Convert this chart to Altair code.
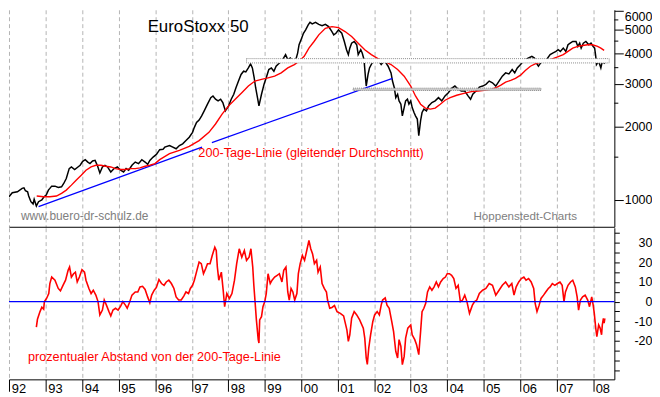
import altair as alt
import pandas as pd

# ---- EuroStoxx 50 (black) ----
price_year = [1991.99, 1992.08, 1992.22, 1992.35, 1992.40, 1992.44, 1992.50, 1992.53, 1992.59, 1992.65,
              1992.68, 1992.74, 1992.80, 1992.89, 1992.95, 1993.01, 1993.07, 1993.11, 1993.16, 1993.25,
              1993.34, 1993.43, 1993.49, 1993.56, 1993.64, 1993.70, 1993.79, 1993.88, 1993.94, 1994.01,
              1994.08, 1994.15, 1994.21, 1994.28, 1994.35, 1994.42, 1994.48, 1994.55, 1994.62, 1994.69,
              1994.78, 1994.87, 1994.96, 1995.05, 1995.13, 1995.20, 1995.27, 1995.36, 1995.45, 1995.54,
              1995.63, 1995.72, 1995.79, 1995.85, 1995.94, 1996.03, 1996.12, 1996.21, 1996.26, 1996.39,
              1996.48, 1996.57, 1996.66, 1996.75, 1996.84, 1996.93, 1997.02, 1997.07, 1997.13, 1997.20,
              1997.27, 1997.34, 1997.43, 1997.52, 1997.58, 1997.65, 1997.72, 1997.79, 1997.85, 1997.92,
              1998.01, 1998.08, 1998.15, 1998.21, 1998.28, 1998.35, 1998.42, 1998.48, 1998.55, 1998.61,
              1998.66, 1998.71, 1998.75, 1998.80, 1998.84, 1998.91, 1998.98, 1999.04, 1999.11, 1999.18,
              1999.25, 1999.31, 1999.40, 1999.49, 1999.57, 1999.63, 1999.70, 1999.76, 1999.85, 1999.90,
              1999.94, 2000.01, 2000.06, 2000.12, 2000.19, 2000.24, 2000.30, 2000.39, 2000.48, 2000.57,
              2000.66, 2000.75, 2000.84, 2000.89, 2000.95, 2001.02, 2001.11, 2001.18, 2001.24, 2001.29,
              2001.33, 2001.38, 2001.45, 2001.52, 2001.56, 2001.63, 2001.67, 2001.72, 2001.76, 2001.78,
              2001.83, 2001.87, 2001.94, 2002.01, 2002.10, 2002.19, 2002.26, 2002.32, 2002.38, 2002.46,
              2002.50, 2002.55, 2002.59, 2002.64, 2002.68, 2002.73, 2002.77, 2002.82, 2002.86, 2002.91,
              2002.95, 2003.00, 2003.04, 2003.09, 2003.13, 2003.18, 2003.22, 2003.27, 2003.31, 2003.36,
              2003.43, 2003.49, 2003.58, 2003.67, 2003.76, 2003.85, 2003.94, 2004.03, 2004.12, 2004.21,
              2004.30, 2004.39, 2004.48, 2004.57, 2004.64, 2004.70, 2004.79, 2004.88, 2004.97, 2005.06,
              2005.15, 2005.24, 2005.33, 2005.42, 2005.51, 2005.60, 2005.69, 2005.78, 2005.85, 2005.92,
              2006.01, 2006.08, 2006.14, 2006.23, 2006.32, 2006.39, 2006.44, 2006.50, 2006.56, 2006.64,
              2006.72, 2006.82, 2006.89, 2006.98, 2007.04, 2007.10, 2007.18, 2007.25, 2007.31, 2007.37,
              2007.44, 2007.53, 2007.58, 2007.63, 2007.67, 2007.73, 2007.80, 2007.88, 2007.94, 2008.00,
              2008.04, 2008.07, 2008.09, 2008.15, 2008.21, 2008.25, 2008.30, 2008.34, 2008.39]
price_value = [1031, 1071, 1081, 1116, 1122, 1091, 1081, 1038, 984, 963,
               1007, 945, 984, 1000, 1031, 1048, 1098, 1116, 1140, 1140,
               1126, 1133, 1169, 1226, 1346, 1367, 1334, 1367, 1389, 1442,
               1465, 1432, 1411, 1446, 1455, 1376, 1292, 1367, 1389, 1367,
               1304, 1346, 1367, 1325, 1304, 1346, 1325, 1389, 1432, 1411,
               1465, 1432, 1402, 1455, 1501, 1540, 1610, 1615, 1649, 1675,
               1649, 1624, 1675, 1702, 1755, 1811, 1897, 1989, 2084, 2131,
               2219, 2326, 2477, 2635, 2678, 2596, 2555, 2596, 2515, 2326,
               2438, 2596, 2721, 2894, 3083, 3282, 3384, 3363, 3491, 3626,
               3491, 3179, 2894, 2635, 2438, 2721, 2989, 3179, 3439, 3491,
               3384, 3548, 3660, 3777, 3958, 3777, 3834, 3718, 3777, 4018,
               4348, 4626, 4849, 5006, 5246, 5373, 5300, 5373, 5275, 5211,
               5275, 5163, 4927, 4775, 4849, 5006, 4849, 4485, 4148, 3958,
               4211, 4414, 4485, 4348, 3958, 4148, 4018, 3777, 3179, 2941,
               3282, 3491, 3660, 3718, 3777, 3605, 3718, 3660, 3548, 3331,
               3083, 2894, 2635, 2721, 2555, 2477, 2219, 2399, 2555, 2596,
               2477, 2555, 2399, 2289, 2219, 2151, 1840, 2118, 2289, 2363,
               2326, 2438, 2515, 2555, 2635, 2555, 2678, 2762, 2878, 2941,
               2851, 2806, 2806, 2678, 2596, 2721, 2806, 2913, 2941, 2989,
               3083, 3034, 2941, 3083, 3230, 3331, 3300, 3439, 3331, 3491,
               3605, 3718, 3777, 3834, 3895, 3834, 3660, 3548, 3660, 3742,
               3777, 3958, 4018, 4083, 4148, 4083, 4211, 4083, 4348, 4414,
               4485, 4485, 4279, 4414, 4211, 4414, 4485, 4348, 4414, 4279,
               4211, 3895, 3605, 3718, 3491, 3718, 3660, 3777, 3660]

# ---- 200-day moving average (red) ----
ma_year = [1992.75, 1992.94, 1993.11, 1993.29, 1993.43, 1993.56, 1993.70, 1993.83, 1993.97, 1994.10,
           1994.24, 1994.37, 1994.51, 1994.64, 1994.78, 1994.91, 1995.05, 1995.18, 1995.32, 1995.45,
           1995.58, 1995.72, 1995.85, 1995.99, 1996.12, 1996.39, 1996.66, 1996.93, 1997.20, 1997.47,
           1997.65, 1997.83, 1998.01, 1998.19, 1998.37, 1998.55, 1998.73, 1998.91, 1999.09, 1999.27,
           1999.45, 1999.63, 1999.81, 1999.94, 2000.08, 2000.21, 2000.35, 2000.48, 2000.66, 2000.84,
           2001.02, 2001.20, 2001.38, 2001.56, 2001.74, 2001.92, 2002.10, 2002.28, 2002.46, 2002.64,
           2002.82, 2003.00, 2003.13, 2003.27, 2003.40, 2003.54, 2003.67, 2003.81, 2003.94, 2004.08,
           2004.26, 2004.43, 2004.66, 2004.84, 2005.02, 2005.20, 2005.33, 2005.47, 2005.60, 2005.74,
           2005.87, 2006.01, 2006.14, 2006.28, 2006.41, 2006.55, 2006.68, 2006.82, 2006.99, 2007.18,
           2007.31, 2007.44, 2007.58, 2007.71, 2007.85, 2007.98, 2008.12, 2008.21, 2008.30]
ma_value = [1038, 1031, 1031, 1038, 1065, 1098, 1151, 1206, 1264, 1325,
            1367, 1389, 1389, 1376, 1367, 1346, 1334, 1334, 1346, 1346,
            1355, 1376, 1389, 1411, 1465, 1550, 1599, 1660, 1755, 1897,
            2053, 2255, 2438, 2596, 2762, 2941, 3083, 3131, 3179, 3230,
            3331, 3491, 3605, 3718, 3895, 4211, 4485, 4775, 5081, 5163,
            5115, 4927, 4700, 4414, 4148, 3958, 3812, 3718, 3605, 3439,
            3230, 2941, 2678, 2477, 2386, 2363, 2386, 2477, 2571, 2635,
            2695, 2736, 2788, 2806, 2825, 2851, 2894, 2969, 3054, 3102,
            3161, 3260, 3407, 3548, 3626, 3684, 3718, 3777, 3859, 3958,
            4083, 4211, 4279, 4319, 4348, 4348, 4279, 4211, 4121]

# ---- percentage distance from the 200-day line (red, lower panel) ----
dev_year = [1992.74, 1992.77, 1992.84, 1992.89, 1992.94, 1992.96, 1993.02, 1993.08, 1993.11, 1993.16,
            1993.25, 1993.34, 1993.40, 1993.47, 1993.54, 1993.61, 1993.65, 1993.70, 1993.76, 1993.81,
            1993.86, 1993.92, 1993.99, 1994.06, 1994.10, 1994.18, 1994.24, 1994.30, 1994.37, 1994.43,
            1994.48, 1994.55, 1994.60, 1994.66, 1994.73, 1994.78, 1994.84, 1994.91, 1994.98, 1995.05,
            1995.11, 1995.18, 1995.23, 1995.29, 1995.36, 1995.45, 1995.52, 1995.58, 1995.65, 1995.72,
            1995.79, 1995.85, 1995.90, 1995.97, 1996.03, 1996.10, 1996.17, 1996.24, 1996.30, 1996.37,
            1996.44, 1996.51, 1996.57, 1996.64, 1996.71, 1996.78, 1996.84, 1996.91, 1996.96, 1997.02,
            1997.07, 1997.14, 1997.20, 1997.26, 1997.32, 1997.38, 1997.43, 1997.50, 1997.56, 1997.63,
            1997.67, 1997.70, 1997.74, 1997.81, 1997.86, 1997.90, 1997.96, 1998.03, 1998.10, 1998.17,
            1998.23, 1998.30, 1998.37, 1998.44, 1998.50, 1998.57, 1998.62, 1998.67, 1998.70, 1998.73,
            1998.77, 1998.82, 1998.84, 1998.86, 1998.91, 1998.95, 1999.00, 1999.04, 1999.09, 1999.15,
            1999.20, 1999.27, 1999.34, 1999.40, 1999.47, 1999.52, 1999.58, 1999.63, 1999.67, 1999.72,
            1999.77, 1999.82, 1999.88, 1999.92, 1999.97, 2000.03, 2000.09, 2000.15, 2000.21, 2000.26,
            2000.31, 2000.36, 2000.42, 2000.46, 2000.52, 2000.57, 2000.63, 2000.69, 2000.72, 2000.78,
            2000.84, 2000.91, 2000.98, 2001.07, 2001.16, 2001.25, 2001.29, 2001.33, 2001.38, 2001.45,
            2001.52, 2001.60, 2001.70, 2001.74, 2001.78, 2001.81, 2001.85, 2001.90, 2001.96, 2002.01,
            2002.08, 2002.14, 2002.19, 2002.23, 2002.30, 2002.35, 2002.41, 2002.48, 2002.53, 2002.59,
            2002.64, 2002.68, 2002.73, 2002.77, 2002.82, 2002.86, 2002.92, 2003.00, 2003.04, 2003.11,
            2003.16, 2003.22, 2003.27, 2003.31, 2003.36, 2003.41, 2003.46, 2003.52, 2003.58, 2003.64,
            2003.70, 2003.76, 2003.82, 2003.89, 2003.95, 2004.00, 2004.06, 2004.12, 2004.18, 2004.24,
            2004.30, 2004.36, 2004.42, 2004.48, 2004.54, 2004.61, 2004.69, 2004.75, 2004.81, 2004.88,
            2004.97, 2005.06, 2005.15, 2005.24, 2005.33, 2005.42, 2005.51, 2005.60, 2005.69, 2005.77,
            2005.83, 2005.89, 2005.96, 2006.03, 2006.10, 2006.16, 2006.23, 2006.30, 2006.37, 2006.41,
            2006.46, 2006.52, 2006.57, 2006.64, 2006.70, 2006.77, 2006.82, 2006.88, 2006.95, 2007.02,
            2007.09, 2007.15, 2007.20, 2007.24, 2007.31, 2007.38, 2007.44, 2007.51, 2007.56, 2007.60,
            2007.65, 2007.71, 2007.78, 2007.85, 2007.90, 2007.96, 2008.00, 2008.03, 2008.07, 2008.10,
            2008.15, 2008.19, 2008.23, 2008.25, 2008.28, 2008.30, 2008.32]
dev_value = [-13.0, -9.0, -5.1, -2.9, -3.9, 0.0, 1.6, 4.1, 9.2, 12.5,
             10.9, 6.7, 5.5, 8.3, 10.9, 15.9, 17.6, 12.5, 14.2, 15.0,
             10.0, 12.5, 16.3, 15.0, 10.9, 6.7, 4.1, 5.8, 3.3, 0.0,
             -6.8, -4.3, 0.8, -1.8, -5.1, -7.3, -4.3, -3.4, -4.3, -2.3,
             0.0, -1.8, -3.4, -0.6, 3.3, 4.9, 4.9, 7.5, 7.8, 6.2,
             2.4, -0.6, 3.3, 5.8, 7.2, 11.2, 9.2, 8.3, 10.0, 10.9,
             9.2, 6.7, 2.4, 0.8, 0.8, 2.8, 4.9, 4.1, 6.7, 8.3,
             10.9, 15.9, 20.1, 19.3, 14.2, 16.8, 19.3, 19.3, 23.5, 27.7,
             26.0, 17.6, 10.9, 15.0, 5.8, -2.6, 4.1, 1.6, 4.1, 10.9,
             19.3, 26.9, 22.6, 26.0, 21.0, 22.6, 26.9, 17.6, 8.3, 0.8,
             -9.3, -19.4, -21.1, -9.3, -7.7, -2.6, 0.0, 4.1, 14.2, 9.2,
             10.9, 12.5, 13.4, 14.2, 10.0, 15.9, 17.6, 4.9, 0.8, 6.7,
             4.9, 0.8, 4.1, 14.2, 19.3, 23.5, 21.0, 26.0, 31.1, 26.9,
             24.3, 19.3, 21.0, 15.0, 17.6, 9.2, 6.7, 4.9, 0.8, -3.4,
             -3.0, -2.0, -5.1, -6.0, -7.3, -14.4, -20.3, -16.9, -8.5, -5.1,
             -6.8, -9.3, -13.5, -18.6, -28.7, -32.0, -23.6, -16.9, -10.2, -6.8,
             -5.1, -6.8, -1.8, 0.8, 1.9, -1.8, -3.4, -10.2, -15.3, -25.4,
             -28.7, -19.4, -22.8, -32.1, -27.9, -18.6, -13.5, -11.9, -16.9, -19.4,
             -22.0, -27.0, -15.3, -5.1, -3.4, -0.9, 4.9, 7.5, 5.8, 7.5,
             10.0, 7.5, 10.0, 11.7, 12.5, 14.2, 14.2, 13.4, 11.7, 6.7,
             8.3, 0.0, 0.8, 3.3, 0.0, -6.0, -1.8, 0.0, 0.8, 4.1,
             5.8, 6.7, 9.2, 8.3, 3.3, 5.8, 8.3, 10.0, 7.5, 9.2,
             3.3, 7.5, 10.0, 11.7, 12.5, 10.9, 11.7, 10.0, 6.7, -0.9,
             -5.1, -1.8, 1.6, 3.3, 4.9, 6.7, 7.5, 9.2, 8.3, 9.2,
             10.0, 8.3, 0.0, 4.9, 8.3, 10.0, 10.9, 7.5, 2.4, -4.3,
             0.8, 2.4, 3.3, 0.8, -2.6, 2.4, -1.8, -6.0, -13.5, -17.8,
             -11.9, -13.5, -16.9, -11.9, -8.5, -11.0, -8.5]

# ---- blue trend line (two pieces, broken by the label) ----
trend_year = [1992.80, 1997.28, 1997.55, 2002.50]
trend_value = [939, 1649, 1722, 3161]
trend_piece = ["a", "a", "b", "b"]

# ---- grey horizontal zones ----
zone_from = [1998.50, 2001.42]
zone_to = [2008.44, 2006.57]
zone_low = [3660, 2819]
zone_high = [3812, 2883]
zone_fill = ["#ffffff", "#c8c8c8"]

year_ticks = list(range(1992, 2009))
top_major = [1000, 2000, 3000, 4000, 5000, 6000]
top_minor = [1500, 2500, 3500, 4500, 5500]
bottom_ticks = [-35, -30, -25, -20, -15, -10, -5, 0, 5, 10, 15, 20, 25, 30, 35]

FONT = "Liberation Sans"
W = 611
H1 = 219
H2 = 153

xs = alt.Scale(domain=[1991.99, 2008.58], nice=False, zero=False)
ys1 = alt.Scale(type="log", domain=[776, 6053], nice=False)
ys2 = alt.Scale(domain=[-39.6, 37.6], nice=False, zero=False)

grid_kw = dict(grid=True, gridColor="#b4b4b4", gridDash=[4, 3], gridWidth=1)

ax_top_x = alt.Axis(values=year_ticks, labels=False, ticks=False, domain=True,
                    domainColor="black", domainWidth=1, title=None, **grid_kw)
ax_top_y = alt.Axis(orient="right", values=top_major, title=None, grid=False,
                    domainColor="black", tickColor="black", tickSize=9,
                    labelExpr="'' + datum.value",
                    labelAlign="right",
                    labelBaseline={"condition": {"test": "datum.value >= 6000", "value": "top"},
                                   "value": "middle"},
                    labelPadding=29,
                    labelFont=FONT, labelFontSize=12.6, labelColor="black", labelOverlap=False)
ax_bot_x = alt.Axis(values=year_ticks, ticks=True, tickSize=12, tickColor="black",
                    domainColor="black", title=None,
                    labelExpr="format(datum.value % 100, '02d')",
                    labelAlign="left", labelBaseline="alphabetic", labelPadding=1, labelOffset=2,
                    labelFlush=False, labelOverlap=False, labelFont=FONT, labelFontSize=13,
                    labelColor="black", **grid_kw)
ax_bot_y = alt.Axis(orient="right", values=bottom_ticks, title=None, grid=False,
                    domainColor="black", tickColor="black", tickSize=5,
                    labelExpr="(datum.value % 10 == 0 && datum.value > -25 && datum.value < 35) ? '' + datum.value : ''",
                    labelAlign="right", labelBaseline="middle", labelPadding=33,
                    labelFont=FONT, labelFontSize=12.6, labelColor="black", labelOverlap=False)

price_df = pd.DataFrame({"year": price_year, "value": price_value})
ma_df = pd.DataFrame({"year": ma_year, "value": ma_value})
dev_df = pd.DataFrame({"year": dev_year, "value": dev_value})
trend_df = pd.DataFrame({"year": trend_year, "value": trend_value, "piece": trend_piece})
zone_df = pd.DataFrame({"year": zone_from, "year_end": zone_to, "value": zone_low,
                        "value_end": zone_high, "fill": zone_fill})
minor_df = pd.DataFrame({"value": top_minor})
zero_df = pd.DataFrame({"value": [0]})

X_TOP = alt.X("year:Q", scale=xs, axis=ax_top_x)
Y_TOP = alt.Y("value:Q", scale=ys1, axis=ax_top_y)
X_BOT = alt.X("year:Q", scale=xs, axis=ax_bot_x)
Y_BOT = alt.Y("value:Q", scale=ys2, axis=ax_bot_y)

price_line = alt.Chart(price_df).mark_line(color="black", strokeWidth=1.5, clip=True).encode(x=X_TOP, y=Y_TOP)
ma_line = alt.Chart(ma_df).mark_line(color="#ff0000", strokeWidth=1.4, clip=True).encode(x=X_TOP, y=Y_TOP)
trend_line = alt.Chart(trend_df).mark_line(color="#0000ff", strokeWidth=1.2, clip=True).encode(
    x=X_TOP, y=Y_TOP, detail="piece:N")
zones = alt.Chart(zone_df).mark_rect(stroke="#8c8c8c", strokeWidth=1, strokeDash=[1, 1], clip=True).encode(
    x=X_TOP, x2="year_end:Q", y=Y_TOP, y2="value_end:Q", fill=alt.Fill("fill:N", scale=None))
minor_ticks = alt.Chart(minor_df).mark_rule(color="black", strokeWidth=1).encode(
    y=Y_TOP, x=alt.value(W), x2=alt.value(W + 4))


def note(text, x, y, color, size, xenc, yenc):
    df = pd.DataFrame({"year": [x], "value": [y], "t": [text]})
    return alt.Chart(df).mark_text(align="left", baseline="middle", font=FONT,
                                   fontSize=size, color=color).encode(x=xenc, y=yenc, text="t:N")


top = alt.layer(
    price_line,
    trend_line,
    ma_line,
    zones,
    minor_ticks,
    note("EuroStoxx 50", 1995.79, 5163, "black", 17, X_TOP, Y_TOP),
    note("200-Tage-Linie (gleitender Durchschnitt)", 1997.18, 1562, "#ff0000", 12.8, X_TOP, Y_TOP),
    note("www.buero-dr-schulz.de", 1992.32, 861, "#808080", 12, X_TOP, Y_TOP),
    note("Hoppenstedt-Charts", 2004.72, 861, "#808080", 11.7, X_TOP, Y_TOP),
).properties(width=W, height=H1)

dev_line = alt.Chart(dev_df).mark_line(color="#ff0000", strokeWidth=1.6, clip=True).encode(x=X_BOT, y=Y_BOT)
zero_rule = alt.Chart(zero_df).mark_rule(color="#0000ff", strokeWidth=1.2).encode(y=Y_BOT)
bottom = alt.layer(
    dev_line,
    zero_rule,
    note("prozentualer Abstand von der 200-Tage-Linie", 1992.51, -28.0, "#ff0000", 12.8, X_BOT, Y_BOT),
).properties(width=W, height=H2)

chart = alt.vconcat(top, bottom, spacing=0).properties(
    padding=0, background="white"
).configure_view(stroke=None).configure_concat(spacing=0).configure_axis(labelOverlap=False)

chart.save("out.html", embed_options={"renderer": "svg", "actions": False})
